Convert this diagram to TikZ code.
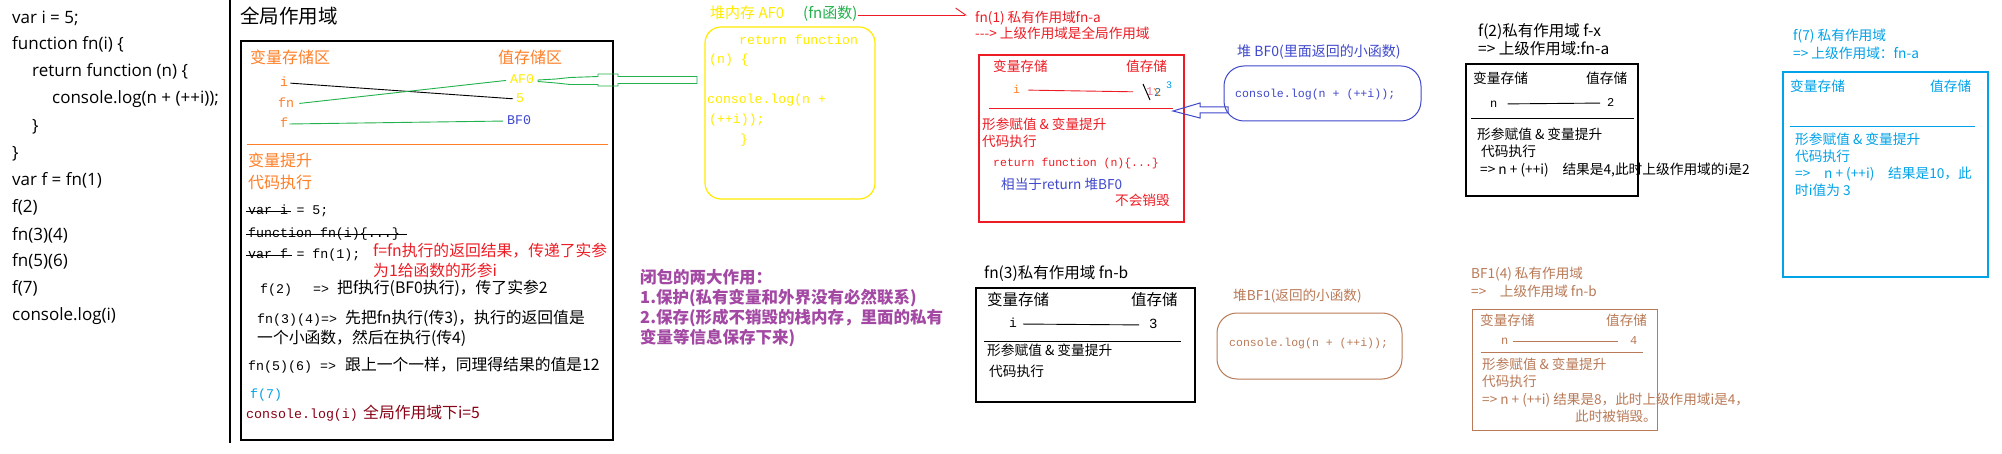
\documentclass[tikz,border=0pt]{standalone}
\usepackage{fontspec}
\setmainfont{Noto Sans CJK SC}
\newfontfamily\cmono{Liberation Mono}
\newfontfamily\yhfont{Open Sans}
\usetikzlibrary{arrows.meta}
\definecolor{org}{RGB}{255,127,39}
\definecolor{ylw}{RGB}{255,236,0}
\definecolor{grn}{RGB}{34,177,76}
\definecolor{ind}{RGB}{63,72,204}
\definecolor{rd}{RGB}{237,28,36}
\definecolor{pnk}{RGB}{240,120,160}
\definecolor{tl}{RGB}{40,110,150}
\definecolor{cyn}{RGB}{0,162,232}
\definecolor{drd}{RGB}{136,0,21}
\definecolor{prp}{RGB}{163,73,164}
\definecolor{brn}{RGB}{185,122,87}
\newcommand\myfs[1]{\fontsize{#1}{#1}\selectfont}
\begin{document}
\begin{tikzpicture}[x=1pt,y=-1pt,
  lb/.style={anchor=west,inner sep=0pt,text height=0.85em,text depth=0.15em},
  cj/.style={lb,font=\myfs{#1}},
  bcj/.style={lb,font=\bfseries\myfs{#1}},
  mo/.style={lb,font=\cmono\myfs{#1}},
  yh/.style={lb,font=\yhfont\myfs{17}},
  link/.style={line width=0.9pt}
]
\fill[white] (0,0) rectangle (2002,454);
\useasboundingbox (0,0) rectangle (2002,454);

% ---------- left code ----------
\node[yh] (c1) at (12,20) {var i = 5;};
\node[yh] (c2) at (12,46) {function fn(i) \{};
\node[yh] (c3) at (32,73) {return function (n) \{};
\node[yh] (c4) at (52,100) {console.log(n + (++i));};
\node[yh] (c5) at (32,128) {\}};
\node[yh] (c6) at (12,155) {\}};
\node[yh] (c7) at (12,182) {var f = fn(1)};
\node[yh] (c8) at (12,209) {f(2)};
\node[yh] (c9) at (12,237) {fn(3)(4)};
\node[yh] (c10) at (12,263) {fn(5)(6)};
\node[yh] (c11) at (12,290) {f(7)};
\node[yh] (c12) at (12,317) {console.log(i)};
\draw[line width=1.2pt] (230,0) -- (230,443);

% ---------- global scope ----------
\node[cj=19.5] (gt) at (240,20) {全局作用域};
\draw[line width=1.2pt] (241,41) rectangle (613,440);
\node[cj=16,text=org] (gvh) at (250,60) {变量存储区};
\node[cj=16,text=org] (gsh) at (498,60) {值存储区};
\node[mo=13.3,text=org] (gi) at (280,83) {i};
\node[mo=13.3,text=org] (gfn) at (278,104) {fn};
\node[mo=13.3,text=org] (gf) at (280,124) {f};
\node[mo=13.3,text=ylw] (gAF) at (510,80) {AF0};
\node[mo=13.3,text=ylw] (g5) at (516,99) {5};
\node[mo=13.3,text=ind] (gBF) at (507,121) {BF0};
\draw[link,shorten <=2pt,shorten >=3pt] (gi.east) -- (g5.west);
\draw[link,grn,shorten <=5pt,shorten >=4pt] (gfn.east) -- (gAF.west);
\draw[link,grn,shorten <=1pt,shorten >=4pt] (gf.east) -- (gBF.west);
% hollow green arrow AF0 -> heap
\draw[grn,line width=0.9pt] (538,80) -- (556,79) -- (570,77.5) -- (598,76.5) -- (598,74) -- (618,74) -- (618,76.5) -- (697,76.5) -- (697,83.5) -- (618,83.5) -- (618,86) -- (598,86) -- (598,84.5) -- (570,84.5) -- (556,83) -- (538,81.5) -- cycle;
\draw[org,line width=1pt] (247,145) -- (608,145);
\node[cj=16,text=org] (gh1) at (248,163) {变量提升};
\node[cj=16,text=org] (gh2) at (248,185) {代码执行};
\node[mo=13.3] (s1) at (248,211) {var i};
\node[mo=13.3] (s1b) at ([xshift=8pt]s1.east) {= 5;};
\draw[link] ([xshift=-2pt]s1.west) -- ([xshift=3pt]s1.east);
\node[mo=13.3] (s2) at (248,234) {function fn(i)\{...\}};
\draw[link] ([xshift=-2pt]s2.west) -- ([xshift=7pt]s2.east);
\node[mo=13.3] (s3) at (248,255) {var f};
\node[mo=13.3] (s3b) at ([xshift=8pt]s3.east) {= fn(1);};
\draw[link] ([xshift=-2pt]s3.west) -- ([xshift=4pt]s3.east);
\node[cj=15.8,text=rd] (r1) at (373,253) {f=fn执行的返回结果，传递了实参};
\node[cj=15.8,text=rd] (r2) at (373,273) {为1给函数的形参i};
\node[mo=13.3] (l1a) at (260,290) {f(2)};
\node[mo=13.3] (l1b) at (313,290) {=>};
\node[cj=15.8] (l1c) at (337,290) {把f执行(BF0执行)，传了实参2};
\node[mo=13.3] (l2a) at (257,320) {fn(3)(4)=>};
\node[cj=15.8] (l2b) at (345,320) {先把fn执行(传3)，执行的返回值是};
\node[cj=15.8] (l2c) at (257,340) {一个小函数，然后在执行(传4)};
\node[mo=13.3] (l3a) at (248,367) {fn(5)(6) =>};
\node[cj=15.8] (l3b) at (345,367) {跟上一个一样，同理得结果的值是12};
\node[mo=13.3,text=cyn] (l4) at (250,395) {f(7)};
\node[mo=13.3,text=drd] (l5a) at (246,415) {console.log(i)};
\node[cj=15.8,text=drd] (l5b) at (363,415) {全局作用域下i=5};

% ---------- heap AF0 ----------
\node[cj=15,text=ylw] (h1) at (710,15) {堆内存 AF0};
\node[cj=15,text=grn] (h2) at (803,15) {(fn函数)};
\draw[ylw,line width=1.2pt,rounded corners=16pt] (705,27) rectangle (875,199);
\node[mo=13.2,text=ylw] (y1) at (739,41) {return function};
\node[mo=13.2,text=ylw] (y2) at (709,60) {(n) \{};
\node[mo=13.2,text=ylw] (y3) at (707,100) {console.log(n +};
\node[mo=13.2,text=ylw] (y4) at (709,120) {(++i));};
\node[mo=13.2,text=ylw] (y5) at (740,140) {\}};

% ---------- fn(1) scope ----------
\node[cj=13.6,text=rd] (fa1) at (975,19) {fn(1) 私有作用域fn-a};
\node[cj=13.6,text=rd] (fa2) at (975,35) {-{}-{}-> 上级作用域是全局作用域};
\draw[rd,line width=0.9pt,-{Straight Barb[left,length=10pt,width=14pt]},shorten >=8pt] (h2.east) -- (h2.east -| fa1.west);
\draw[rd,line width=1.1pt] (979,55) rectangle (1184,222);
\node[cj=13.6,text=rd] (fv) at (993,68) {变量存储};
\node[cj=13.6,text=rd] (fs) at (1126,68) {值存储};
\node[mo=11.5,text=org] (ai) at (1013,90) {i};
\node[mo=12,text=pnk] (a1) at (1146,92) {1};
\draw[line width=1pt] (1143,84) -- (1150,100);
\node[mo=12,text=tl] (a2) at (1154,93) {2};
\draw[org,line width=0.7pt] (1154,88) -- (1159,96);
\node[lb,font=\cmono\myfs{10},text=cyn] (a3) at (1166,85) {3};
\draw[rd,link,shorten <=8pt,shorten >=13pt] (ai.east) -- (a1.west);
\draw[rd,line width=1pt] (989,109) -- (1173,109);
\node[cj=13.6,text=rd] (fa3) at (982,126) {形参赋值 \& 变量提升};
\node[cj=13.6,text=rd] (fa4) at (982,143) {代码执行};
\node[mo=11.5,text=rd] (fa5) at (993,163) {return function (n)\{...\}};
\node[cj=13.6,text=ind] (fa6) at (1001,186) {相当于return 堆BF0};
\node[cj=13.6,text=rd] (fa7) at (1115,202) {不会销毁};

% ---------- heap BF0 ----------
\node[cj=14,text=ind] (bh) at (1237,53) {堆 BF0(里面返回的小函数)};
\draw[ind,line width=1pt,rounded corners=20pt] (1224,66) rectangle (1421,121);
\node[mo=11.6,text=ind] (bc) at (1235,94) {console.log(n + (++i));};
\draw[ind,line width=1pt] (1173,111) -- (1200,103) -- (1200,107) -- (1228,107) -- (1228,113) -- (1200,113) -- (1200,118) -- cycle;

% ---------- closure notes ----------
\node[bcj=16.5,text=prp] (p1) at (640,280) {闭包的两大作用：};
\node[bcj=16.5,text=prp] (p2) at (640,300) {1.保护(私有变量和外界没有必然联系)};
\node[bcj=16.5,text=prp] (p3) at (640,320) {2.保存(形成不销毁的栈内存，里面的私有};
\node[bcj=16.5,text=prp] (p4) at (640,340) {变量等信息保存下来)};

% ---------- fn(3) scope ----------
\node[cj=15.5] (b0) at (984,275) {fn(3)私有作用域 fn-b};
\draw[line width=1.2pt] (976,288) rectangle (1195,402);
\node[cj=15.5] (bv) at (987,302) {变量存储};
\node[cj=15.5] (bs) at (1131,302) {值存储};
\node[mo=13] (bi) at (1009,324) {i};
\node[mo=14] (b3) at (1149,325) {3};
\draw[link,shorten <=6pt,shorten >=10pt] (bi.east) -- (b3.west);
\draw[line width=1pt] (984,341) -- (1181,341);
\node[cj=13.7] (b4) at (987,352) {形参赋值 \& 变量提升};
\node[cj=13.7] (b5) at (989,373) {代码执行};

% ---------- heap BF1 ----------
\node[cj=13.6,text=brn] (eh) at (1233,297) {堆BF1(返回的小函数)};
\draw[brn,line width=1pt,rounded corners=20pt] (1217,313) rectangle (1402,379);
\node[mo=11.5,text=brn] (ec) at (1229,343) {console.log(n + (++i));};

% ---------- f(2) scope ----------
\node[cj=15.5] (x0) at (1478,33) {f(2)私有作用域 f-x};
\node[cj=15.5] (x1) at (1478,51) {=> 上级作用域:fn-a};
\draw[line width=1.2pt] (1466,64) rectangle (1638,196);
\node[cj=13.7] (xv) at (1473,80) {变量存储};
\node[cj=13.7] (xs) at (1586,80) {值存储};
\node[mo=12] (xn) at (1490,104) {n};
\node[mo=12] (x2) at (1607,103) {2};
\draw[link,shorten <=10pt,shorten >=7pt] (xn.east) -- (x2.west);
\draw[line width=1pt] (1471,119) -- (1634,119);
\node[cj=13.7] (x3) at (1477,136) {形参赋值 \& 变量提升};
\node[cj=13.7] (x4) at (1481,153) {代码执行};
\node[cj=13.7] (x5) at (1480,171) {=> n + (++i)\quad 结果是4,此时上级作用域的i是2};

% ---------- f(7) scope ----------
\node[cj=13.7,text=cyn] (z0) at (1793,37) {f(7) 私有作用域};
\node[cj=13.7,text=cyn] (z1) at (1793,55) {=> 上级作用域：fn-a};
\draw[cyn,line width=1.2pt] (1783,72) rectangle (1988,277);
\node[cj=13.7,text=cyn] (zv) at (1790,88) {变量存储};
\node[cj=13.7,text=cyn] (zs) at (1930,88) {值存储};
\draw[cyn,line width=1pt] (1790,127) -- (1975,127);
\node[cj=13.7,text=cyn] (z3) at (1795,141) {形参赋值 \& 变量提升};
\node[cj=13.7,text=cyn] (z4) at (1795,158) {代码执行};
\node[cj=13.7,text=cyn] (z5) at (1795,175) {=>\quad n + (++i)\quad 结果是10，此};
\node[cj=13.7,text=cyn] (z6) at (1795,192) {时i值为 3};

% ---------- BF1(4) scope ----------
\node[cj=13.6,text=brn] (w0) at (1471,275) {BF1(4) 私有作用域};
\node[cj=13.6,text=brn] (w1) at (1471,293) {=>\quad 上级作用域 fn-b};
\draw[brn,line width=1pt] (1472,309) rectangle (1657,430);
\node[cj=13.6,text=brn] (wv) at (1480,322) {变量存储};
\node[cj=13.6,text=brn] (ws) at (1606,322) {值存储};
\node[mo=12,text=brn] (wn) at (1501,341) {n};
\node[mo=12,text=brn] (w4) at (1630,341) {4};
\draw[brn,link,shorten <=4pt,shorten >=12pt] (wn.east) -- (w4.west);
\draw[brn,line width=1pt] (1481,352) -- (1643,352);
\node[cj=13.6,text=brn] (w3) at (1482,366) {形参赋值 \& 变量提升};
\node[cj=13.6,text=brn] (w5) at (1482,383) {代码执行};
\node[cj=13.6,text=brn] (w6) at (1482,401) {=> n + (++i) 结果是8，此时上级作用域i是4，};
\node[cj=13.6,text=brn] (w7) at (1575,418) {此时被销毁。};
\end{tikzpicture}
\end{document}
